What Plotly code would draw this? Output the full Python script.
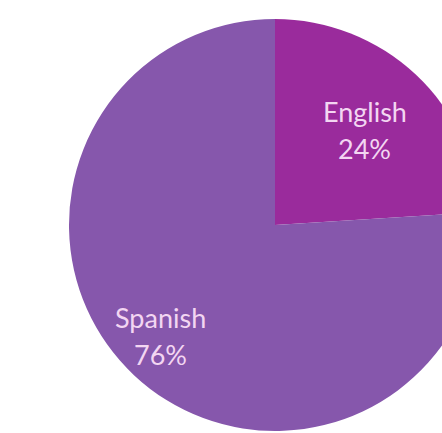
import plotly.graph_objects as go

# Language split
languages = ["English", "Spanish"]
shares = [24, 76]
slice_colors = ["#9A2B9C", "#8657AC"]

# Label anchor points for each slice (paper coordinates): name line, percent line
label_x = [0.718, 0.223]
name_y = [0.775, 0.275]
pct_y = [0.686, 0.186]

fig = go.Figure(
    go.Pie(
        labels=languages,
        values=shares,
        sort=False,
        direction="clockwise",
        rotation=0,
        marker=dict(colors=slice_colors, line=dict(width=0)),
        textinfo="none",
        hoverinfo="label+percent",
    )
)

label_font = dict(family="Lato", size=27, color="#F3D6F2")
for lang, share, x, y1, y2 in zip(languages, shares, label_x, name_y, pct_y):
    fig.add_annotation(x=x, y=y1, xref="paper", yref="paper", text=lang,
                       showarrow=False, font=label_font, xanchor="center", yanchor="middle")
    fig.add_annotation(x=x, y=y2, xref="paper", yref="paper", text=f"{share}%",
                       showarrow=False, font=label_font, xanchor="center", yanchor="middle")

fig.update_layout(
    width=550,
    height=450,
    margin=dict(l=69, r=69, t=19, b=19),
    paper_bgcolor="white",
    plot_bgcolor="white",
    showlegend=False,
)

# The chart is larger than the viewport; hide scrollbars so it is simply cropped
fig.write_html(
    "out.html",
    post_script="document.body.style.overflow='hidden';document.documentElement.style.overflow='hidden';",
)
